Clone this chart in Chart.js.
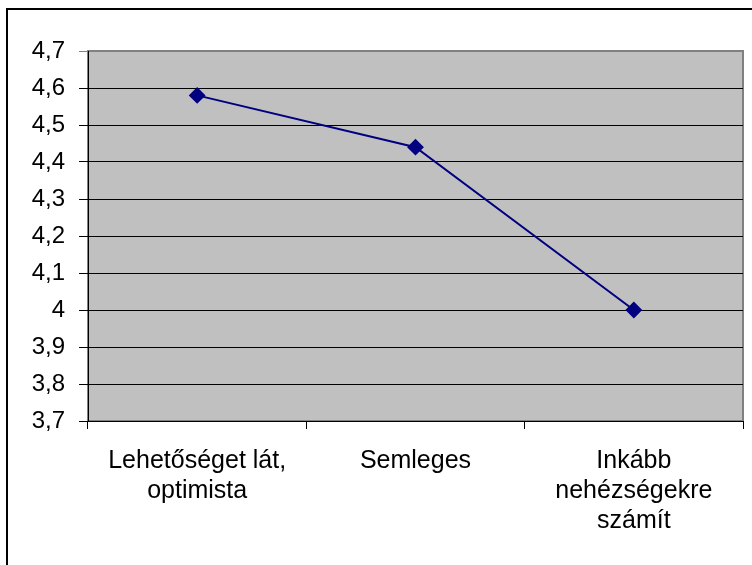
<!DOCTYPE html>
<html>
<head>
<meta charset="utf-8">
<script src="https://cdn.jsdelivr.net/npm/chart.js@4"></script>
<style>
  html, body { margin: 0; padding: 0; background: #fff; }
  #wrap { width: 752px; height: 565px; }
</style>
</head>
<body>
<div id="wrap"><canvas id="chart" width="752" height="565"></canvas></div>
<script>
const categories = [
  ["Lehetőséget lát,", "optimista"],
  ["Semleges"],
  ["Inkább", "nehézségekre", "számít"]
];
const values = [4.58, 4.44, 4.0];
const yMin = 3.7;
const yMax = 4.7;
const yStep = 0.1;

const lineColor = "#000080";
const plotFill = "#C0C0C0";

// gray plot area + outer frame
const frame = {
  id: "frame",
  beforeDraw(chart) {
    const { ctx, chartArea: a } = chart;
    ctx.save();
    ctx.fillStyle = "#fff";
    ctx.fillRect(0, 0, chart.width, chart.height);
    ctx.fillStyle = plotFill;
    ctx.fillRect(a.left, a.top, a.right - a.left, a.bottom - a.top);
    ctx.strokeStyle = "#808080";
    ctx.lineWidth = 2;
    ctx.strokeRect(a.left, a.top, a.right - a.left, a.bottom - a.top);
    ctx.strokeStyle = "#000";
    ctx.lineWidth = 2;
    ctx.strokeRect(7, 9, 780, 600);
    ctx.restore();
  }
};

function fmt(v) {
  return String(Number(v.toFixed(1))).replace(".", ",");
}

new Chart(document.getElementById("chart").getContext("2d"), {
  type: "line",
  data: {
    labels: categories,
    datasets: [{
      data: values,
      borderColor: lineColor,
      backgroundColor: lineColor,
      borderWidth: 2,
      pointStyle: "rectRot",
      pointRadius: 7,
      pointHoverRadius: 7,
      tension: 0
    }]
  },
  options: {
    responsive: false,
    animation: false,
    layout: { padding: { top: 51, right: 9, left: 0, bottom: 0 } },
    plugins: {
      legend: { display: false },
      tooltip: { enabled: false }
    },
    scales: {
      x: {
        offset: true,
        afterFit: s => { s.height = 144; },
        grid: {
          offset: true,
          drawOnChartArea: false,
          color: "#000",
          tickLength: 8
        },
        border: { color: "#000", width: 1 },
        ticks: {
          color: "#000",
          padding: 17,
          maxRotation: 0,
          autoSkip: false,
          font: { family: "'Liberation Sans', Arial, sans-serif", size: 25, lineHeight: 1.2 }
        }
      },
      y: {
        min: yMin,
        max: yMax,
        afterFit: s => { s.width = 88; },
        grid: {
          color: c => (c.tick && Math.abs(c.tick.value - yMax) < 1e-6) ? "#808080" : "#000",
          tickLength: 9
        },
        border: { color: "#000", width: 1 },
        ticks: {
          stepSize: yStep,
          color: "#000",
          padding: 14,
          callback: v => fmt(v),
          font: { family: "'Liberation Sans', Arial, sans-serif", size: 24 }
        }
      }
    }
  },
  plugins: [frame]
});
</script>
</body>
</html>
